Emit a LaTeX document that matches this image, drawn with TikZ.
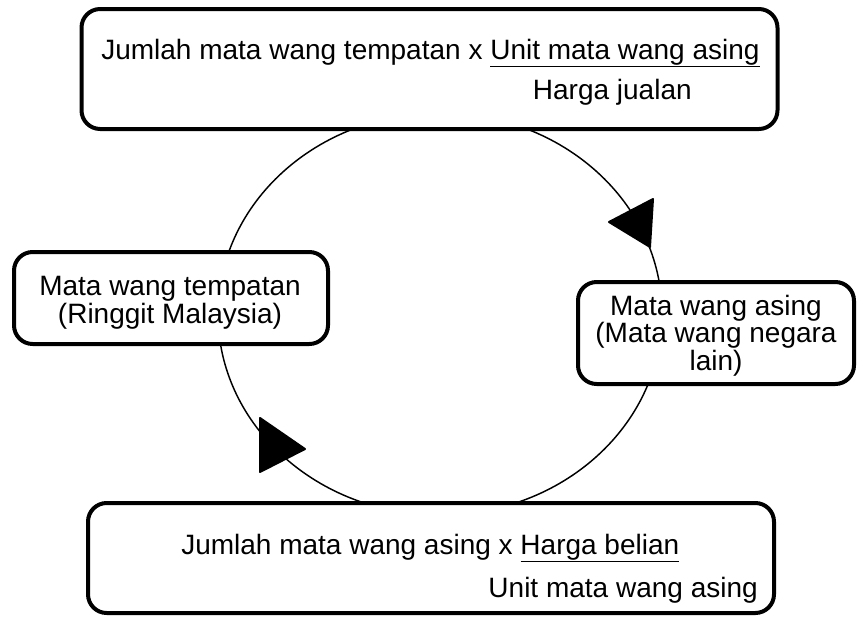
\documentclass[tikz,border=0pt]{standalone}
\usepackage{fontspec}
\setmainfont{Liberation Sans}
\usetikzlibrary{calc}

\begin{document}
\begin{tikzpicture}[x=0.75pt, y=-0.75pt,
    box/.style={draw, line width=3pt, rounded corners=14pt, fill=white, inner sep=0pt},
    txt/.style={inner sep=0pt, font=\fontsize{21}{21}\selectfont},
    sidetxt/.style={inner sep=0pt, align=center, font=\fontsize{21}{20.6}\selectfont},
    tip/.style={fill=black, draw=black, line width=1.5pt, line join=round}]
    \useasboundingbox (0,0) rectangle (858,618);

    % the cycle
    \coordinate (O) at (440,314);
    \draw [line width=1.1pt] (O) ellipse [x radius=222, y radius=201];

    % boxes
    \node [box, minimum width=522pt, minimum height=90pt] (jual) at (429.5,69) {};
    \node [box, minimum width=235.5pt, minimum height=69pt] (tempatan) at (171,298) {};
    \node [box, minimum width=207pt, minimum height=76.5pt] (asing) at (716,333) {};
    \node [box, minimum width=514.5pt, minimum height=82.5pt] (beli) at (431,558) {};

    % formulas
    \node [txt, anchor=base west] (jualA) at (101,59) {Jumlah mata wang tempatan x \underline{Unit mata wang asing}};
    \node [txt, anchor=base east] (jualB) at (692,99) {Harga jualan};
    \node [txt, anchor=base west] (beliA) at (181,554) {Jumlah mata wang asing x \underline{Harga belian}};
    \node [txt, anchor=base east] (beliB) at (758,597) {Unit mata wang asing};

    % last baseline of each side text
    \node [sidetxt, anchor=base] (tempatanT) at (170,323) {Mata wang tempatan\\(Ringgit Malaysia)};
    \node [sidetxt, anchor=base] (asingT) at (716,370) {Mata wang asing\\(Mata wang negara\\lain)};

    % arrow heads
    \filldraw [tip] (609,222) -- (653,199) -- (650,247) -- cycle;
    \filldraw [tip] (260,418) -- (305,449) -- (260,472) -- cycle;
\end{tikzpicture}
\end{document}
